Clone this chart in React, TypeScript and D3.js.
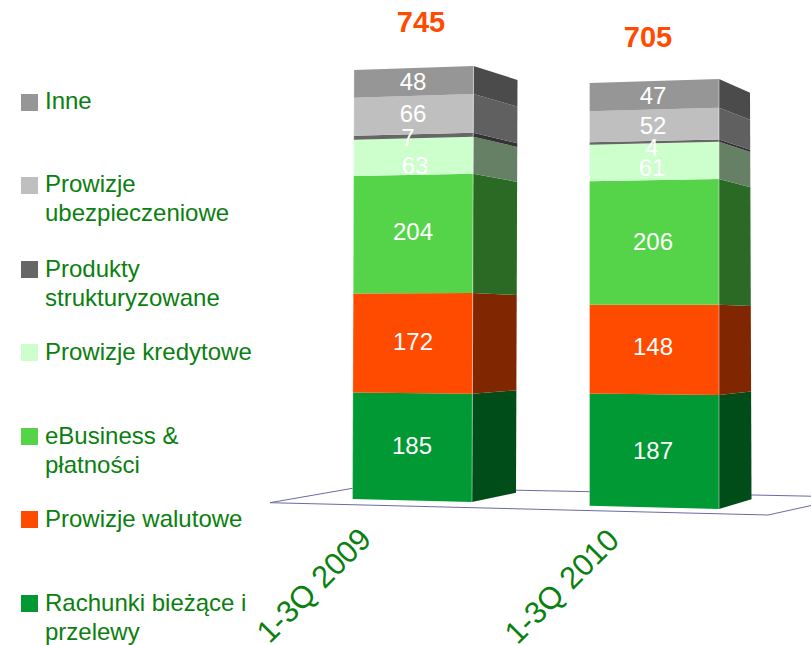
import React from "react";
import * as d3 from "d3";

const W = 811;
const H = 645;
const categories = ["1-3Q 2009", "1-3Q 2010"];
const seriesNames = ["Rachunki bieżące i przelewy", "Prowizje walutowe", "eBusiness & płatności", "Prowizje kredytowe", "Produkty strukturyzowane", "Prowizje ubezpieczeniowe", "Inne"];
const values2009 = [185, 172, 204, 63, 7, 66, 48];
const values2010 = [187, 148, 206, 61, 4, 52, 47];
const totals = [745, 705];
const frontColors = ["#009933", "#ff4b00", "#55d44a", "#ccffcc", "#666666", "#bfbfbf", "#969696"];
const sideColors = ["#004d1a", "#802600", "#2b6a25", "#668066", "#333333", "#606060", "#4b4b4b"];
const textColor = "#0a800f";

// legend: top-down rows
const legendRows = [
  { s: 6, lines: ["Inne"], y: 94, base: 109 },
  { s: 5, lines: ["Prowizje", "ubezpieczeniowe"], y: 177, base: 192 },
  { s: 4, lines: ["Produkty", "strukturyzowane"], y: 261, base: 277 },
  { s: 3, lines: ["Prowizje kredytowe"], y: 344, base: 360 },
  { s: 2, lines: ["eBusiness &", "płatności"], y: 428, base: 444 },
  { s: 1, lines: ["Prowizje walutowe"], y: 511, base: 527 },
  { s: 0, lines: ["Rachunki bieżące i", "przelewy"], y: 595, base: 611 },
];

// perspective geometry of each column: x and y-range of three vertical edges
const columns = [
  {
    values: values2009,
    edges: [
      { x0: 352.5, x1: 354, y0: 499, y1: 70 },
      { x0: 472, x1: 473.5, y0: 502, y1: 66 },
      { x0: 516, x1: 517.5, y0: 492.7, y1: 80 },
    ],
    labelX: [412, 413, 413, 415, 408, 413, 413],
    nudge: [-1, -1.5, -2.3, 8.5, 1, -1.3, 0],
    totalX: 421,
    totalY: 32,
    catX: 373,
    catY: 541,
  },
  {
    values: values2010,
    edges: [
      { x0: 589.5, x1: 589.5, y0: 505.7, y1: 83 },
      { x0: 719, x1: 719, y0: 509, y1: 79 },
      { x0: 751.5, x1: 750, y0: 499.3, y1: 92.7 },
    ],
    labelX: [653, 653, 653, 652, 652, 653, 653],
    nudge: [0, -2.8, -1, 6, 5.7, 0, 0],
    totalX: 648,
    totalY: 47,
    catX: 621,
    catY: 542,
  },
];

const floorPoints: [number, number][] = [[270, 502.7], [360, 487], [850, 497], [768, 515]];
const line = d3.line<[number, number]>();

function Column({ col, total }: { col: (typeof columns)[number]; total: number }) {
  const stack = d3.cumsum(col.values);
  const scales = col.edges.map((e) => ({
    x: d3.scaleLinear().domain([0, total]).range([e.x0, e.x1]),
    y: d3.scaleLinear().domain([0, total]).range([e.y0, e.y1]),
  }));
  const pt = (edge: number, v: number): [number, number] => [scales[edge].x(v), scales[edge].y(v)];
  return (
    <g>
      {col.values.map((v, i) => {
        const lo = stack[i] - v;
        const hi = stack[i];
        return (
          <g key={i}>
            <path d={line([pt(1, lo), pt(2, lo), pt(2, hi), pt(1, hi)]) + "Z"} fill={sideColors[i]} />
            <path d={line([pt(0, lo), pt(1, lo), pt(1, hi), pt(0, hi)]) + "Z"} fill={frontColors[i]} />
            <path d={line([pt(1, lo), pt(1, hi)])!} stroke="#fff" strokeOpacity={0.45} strokeWidth={1} />
            <path d={line([pt(0, lo), pt(0, hi)])!} stroke="#fff" strokeOpacity={0.3} strokeWidth={1} />
          </g>
        );
      })}
      {col.values.map((v, i) => {
        const mid = stack[i] - v / 2;
        const cy = (scales[0].y(mid) + scales[1].y(mid)) / 2 + col.nudge[i];
        return (
          <text key={i} x={col.labelX[i]} y={cy + 8.5} textAnchor="middle" fontSize={24} fill="#fff">
            {v}
          </text>
        );
      })}
      <text x={col.totalX} y={col.totalY} textAnchor="middle" fontSize={29} fontWeight="bold" fill="#ff4b00">
        {total}
      </text>
    </g>
  );
}

export default function App() {
  return (
    <svg
      width={W}
      height={H}
      viewBox={`0 0 ${W} ${H}`}
      style={{ position: "absolute", left: 0, top: 0, display: "block", background: "#fff" }}
      fontFamily="'Liberation Sans', Arial, sans-serif"
    >
      <path d={line(floorPoints) + "Z"} fill="#fff" stroke="#6a6aa6" strokeWidth={1} />
      {columns.map((c, i) => (
        <Column key={i} col={c} total={totals[i]} />
      ))}
      {categories.map((c, i) => (
        <text
          key={c}
          transform={`translate(${columns[i].catX},${columns[i].catY}) rotate(-45)`}
          textAnchor="end"
          fontSize={31}
          fill={textColor}
        >
          {c}
        </text>
      ))}
      {legendRows.map((r) => (
        <g key={r.s} aria-label={seriesNames[r.s]}>
          <rect x={21} y={r.y} width={17} height={17} fill={frontColors[r.s]} />
          {r.lines.map((l, j) => (
            <text key={j} x={45} y={r.base + j * 29} fontSize={24} fill={textColor}>
              {l}
            </text>
          ))}
        </g>
      ))}
    </svg>
  );
}
